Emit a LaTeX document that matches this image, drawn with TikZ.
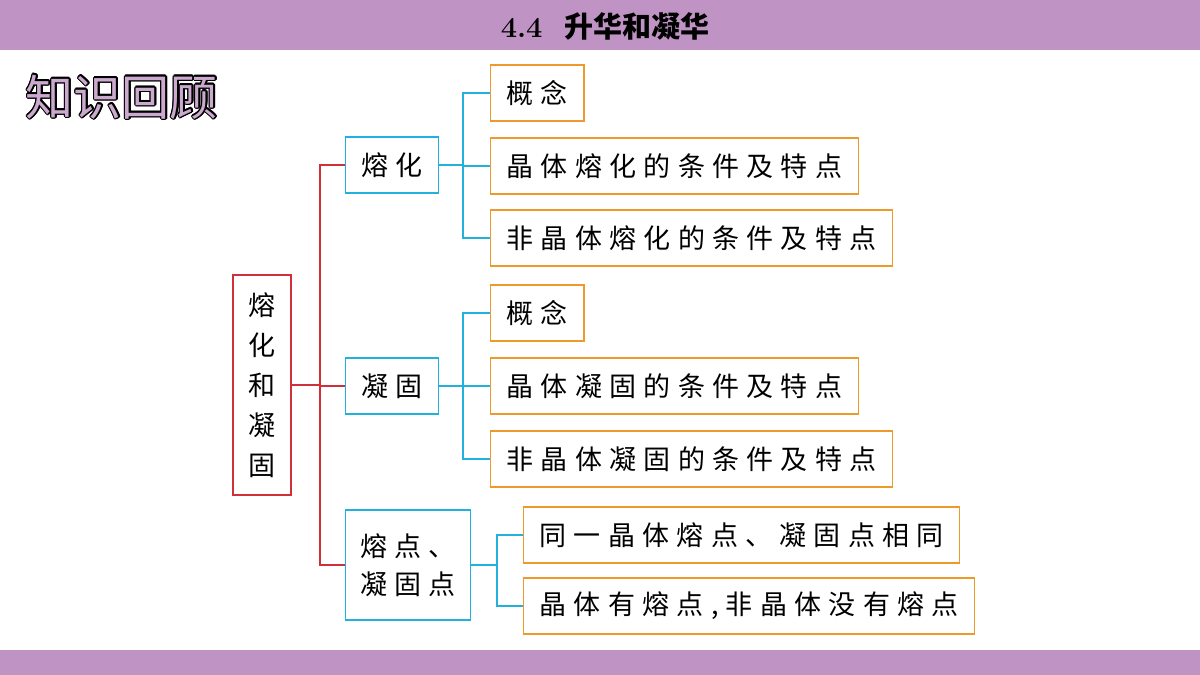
\documentclass[tikz,border=0pt]{standalone}
\usepackage{fontspec}
\usetikzlibrary{calc}
\newfontfamily\cjk[LetterSpace=27]{Noto Sans CJK SC}
\newfontfamily\cjkt{Noto Sans CJK SC}
\definecolor{barpurple}{HTML}{BF93C3}
\definecolor{lineblue}{HTML}{22B0DC}
\definecolor{lineorange}{HTML}{EE9A2A}
\definecolor{linered}{HTML}{D0303A}
\newcommand{\reviewtext}{\fontsize{48}{50}\selectfont\cjkt 知识回顾}
\begin{document}
\begin{tikzpicture}[x=1pt,y=-1pt, line width=1.3pt,
  root/.style={draw=linered, minimum width=58pt, minimum height=220pt, font=\cjkt\fontsize{27}{40}\selectfont, align=center},
  mid/.style={draw=lineblue, anchor=west, minimum height=56pt, inner xsep=12pt, font=\cjk\fontsize{27}{38}\selectfont, align=left},
  leaf/.style={draw=lineorange, anchor=west, minimum height=56pt, inner xsep=16pt, font=\cjk\fontsize{27}{32}\selectfont},
  redl/.style={draw=linered}, bluel/.style={draw=lineblue}]
\useasboundingbox (0,0) rectangle (1200,675);
% Rahmen
\fill[barpurple] (0,0) rectangle (1200,50);
\fill[barpurple] (0,650) rectangle (1200,675);
\node (title) at (605,26) {\fontsize{29}{30}\selectfont\bfseries 4.4\ \ \cjkt\bfseries 升华和凝华};
\foreach \a in {0,30,...,330}
  \node[anchor=west, text=black] at ($(22,97)+(\a:1.6)$) {\reviewtext};
\node[anchor=west, text=barpurple!80] (review) at (22,97) {\reviewtext};
% Knoten
\node[root] (R) at (262,385) {熔\\化\\和\\凝\\固};
\node[mid, minimum width=93pt] (M1) at (345,165) {熔化};
\node[mid, minimum width=93pt] (M2) at (345,386) {凝固};
\node[mid, minimum width=125pt, minimum height=110pt] (M3) at (345,565) {熔点、\\凝固点};
\node[leaf] (A1) at (490,93) {概念};
\node[leaf] (A2) at (490,166) {晶体熔化的条件及特点};
\node[leaf] (A3) at (490,238) {非晶体熔化的条件及特点};
\node[leaf] (B1) at (490,313) {概念};
\node[leaf] (B2) at (490,386) {晶体凝固的条件及特点};
\node[leaf] (B3) at (490,459) {非晶体凝固的条件及特点};
\node[leaf] (C1) at (523,535) {同一晶体熔点、凝固点相同};
\node[leaf] (C2) at (523,606) {晶体有熔点,非晶体没有熔点};
% Linien
\draw[redl] (R.east) -- (320,385);
\foreach \m in {M1,M2,M3} \draw[redl] (320,385) |- (\m.west);
\foreach \l in {A1,A2,A3} \draw[bluel] (M1.east) -- (463,165) |- (\l.west);
\foreach \l in {B1,B2,B3} \draw[bluel] (M2.east) -- (463,386) |- (\l.west);
\foreach \l in {C1,C2} \draw[bluel] (M3.east) -- (497,565) |- (\l.west);
\end{tikzpicture}
\end{document}
